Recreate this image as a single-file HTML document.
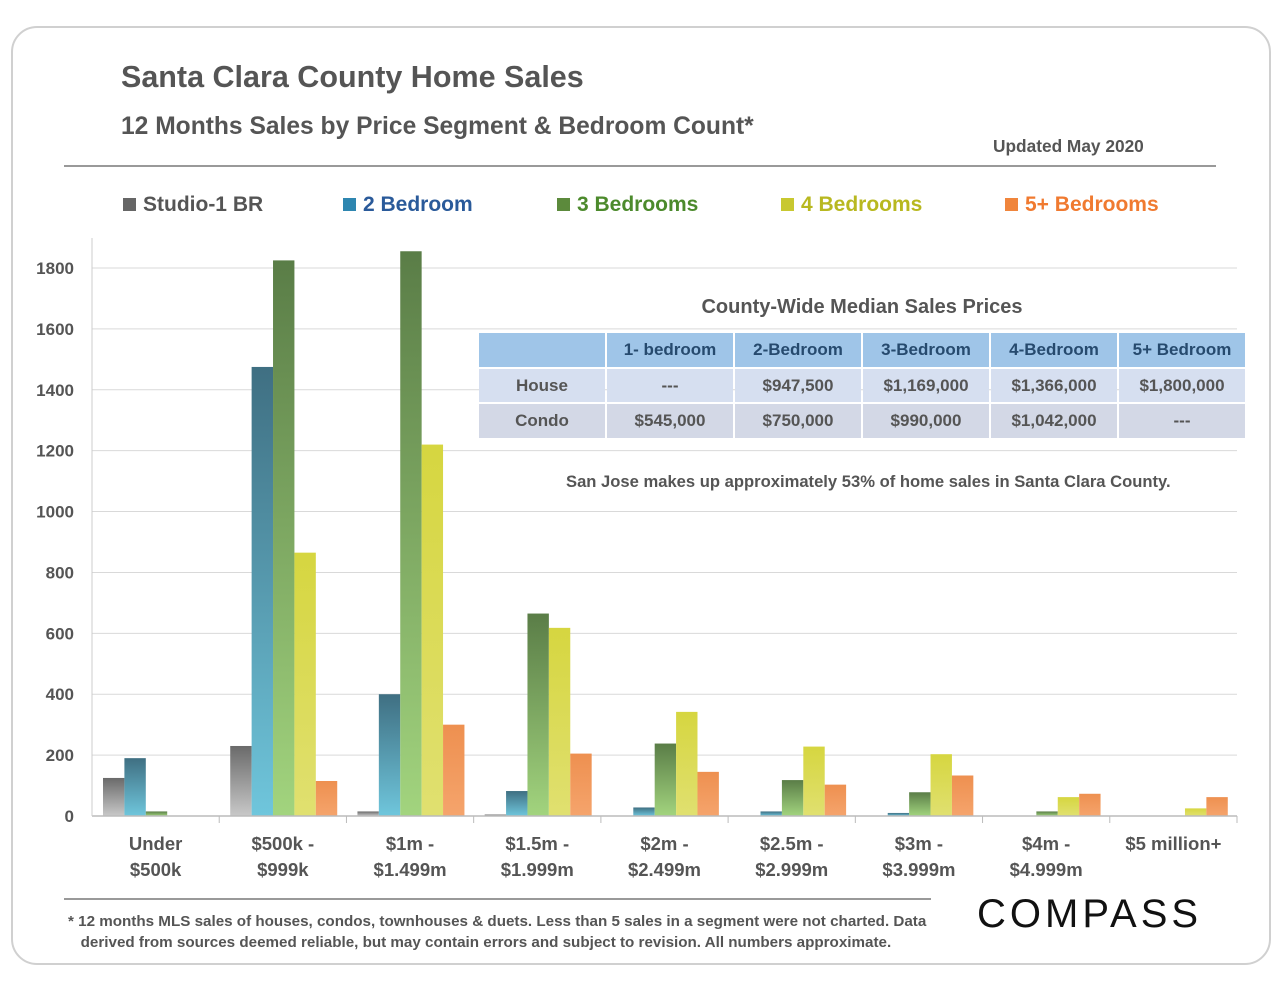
<!DOCTYPE html>
<html><head><meta charset="utf-8">
<style>
body{margin:0;width:1280px;height:989px;background:#fff;font-family:"Liberation Sans",sans-serif;overflow:hidden;position:relative}
.a{position:absolute}
</style></head><body>
<div class="a" style="left:11px;top:26px;width:1256px;height:935px;border:2px solid #d0d0d0;border-radius:26px"></div>
<div class="a" style="left:121px;top:60px;font-size:30.5px;font-weight:bold;color:#555">Santa Clara County Home Sales</div>
<div class="a" style="left:121px;top:113px;font-size:24.6px;font-weight:bold;color:#555">12 Months Sales by Price Segment &amp; Bedroom Count*</div>
<div class="a" style="left:993px;top:136px;font-size:17.3px;font-weight:bold;color:#555">Updated May 2020</div>
<div class="a" style="left:64px;top:165px;width:1152px;height:2px;background:#999"></div>
<svg class="a" style="left:0;top:0" width="1280" height="989">
<defs>
<linearGradient id="g0" x1="0" y1="0" x2="0" y2="1"><stop offset="0" stop-color="#6a6a6a"/><stop offset="1" stop-color="#c8c8c8"/></linearGradient>
<linearGradient id="g1" x1="0" y1="0" x2="0" y2="1"><stop offset="0" stop-color="#3f6f82"/><stop offset="1" stop-color="#6fc6dc"/></linearGradient>
<linearGradient id="g2" x1="0" y1="0" x2="0" y2="1"><stop offset="0" stop-color="#5a7d47"/><stop offset="1" stop-color="#a2d47e"/></linearGradient>
<linearGradient id="g3" x1="0" y1="0" x2="0" y2="1"><stop offset="0" stop-color="#d6d640"/><stop offset="1" stop-color="#e0e070"/></linearGradient>
<linearGradient id="g4" x1="0" y1="0" x2="0" y2="1"><stop offset="0" stop-color="#ee9050"/><stop offset="1" stop-color="#f5a46c"/></linearGradient>
</defs>
<g id="grid"></g><g id="bars"></g><g id="axes"></g>
</svg>
<div class="a" style="left:479px;top:296px;width:766px;text-align:center;font-size:20px;font-weight:bold;color:#555">County-Wide Median Sales Prices</div>
<table class="a" style="left:477px;top:331px;border-collapse:separate;border-spacing:2px;font-size:17px;font-weight:bold;color:#555;text-align:center">
<tr style="background:#9fc5e8;color:#264a6e;height:34px"><td style="width:124px"></td><td style="width:124px">1- bedroom</td><td style="width:124px">2-Bedroom</td><td style="width:124px">3-Bedroom</td><td style="width:124px">4-Bedroom</td><td style="width:124px">5+ Bedroom</td></tr>
<tr style="background:#d6dff0;height:33px"><td>House</td><td>---</td><td>$947,500</td><td>$1,169,000</td><td>$1,366,000</td><td>$1,800,000</td></tr>
<tr style="background:#d3d8e6;height:34px"><td>Condo</td><td>$545,000</td><td>$750,000</td><td>$990,000</td><td>$1,042,000</td><td>---</td></tr>
</table>
<div class="a" style="left:566px;top:472px;font-size:16.6px;font-weight:bold;color:#555">San Jose makes up approximately 53% of home sales in Santa Clara County.</div>
<div class="a" style="left:64px;top:898px;width:867px;height:2px;background:#999"></div>
<div class="a" style="left:68px;top:911px;width:900px;font-size:15.2px;font-weight:bold;color:#555;line-height:21px">* 12 months MLS sales of houses, condos, townhouses &amp; duets. Less than 5 sales in a segment were not charted. Data<br>&nbsp;&nbsp;&nbsp;derived from sources deemed reliable, but may contain errors and subject to revision. All numbers approximate.</div>
<div class="a" style="left:977px;top:892px;font-size:40px;letter-spacing:4px;color:#111">COMPASS</div>
<script>
const categories=[["Under","$500k"],["$500k -","$999k"],["$1m -","$1.499m"],["$1.5m -","$1.999m"],["$2m -","$2.499m"],["$2.5m -","$2.999m"],["$3m -","$3.999m"],["$4m -","$4.999m"],["$5 million+",""]];
const seriesNames=["Studio-1 BR","2 Bedroom","3 Bedrooms","4 Bedrooms","5+ Bedrooms"];
const studio=[125,230,15,5,0,0,0,0,0];
const bed2=[190,1475,400,82,28,15,10,0,0];
const bed3=[15,1825,1855,665,238,118,78,15,0];
const bed4=[0,865,1220,618,342,228,203,62,25];
const bed5=[0,115,300,205,145,103,133,73,62];
const yTicks=[0,200,400,600,800,1000,1200,1400,1600,1800];
const legendColors=["#666","#2e86b0","#5c8a3c","#c8c830","#f0853c"];
const legendText=["#555","#2a5a9a","#4c8a2c","#b8b820","#f07a30"];
const series=[studio,bed2,bed3,bed4,bed5];
const NS="http://www.w3.org/2000/svg";
const x0=92,x1=1237,y0=816,yTop=268,yMaxV=1800;
const cw=(x1-x0)/categories.length,bw=21.4,off=11;
const y=v=>y0-(v/yMaxV)*(y0-yTop);
function mk(t,a,p){const e=document.createElementNS(NS,t);for(const k in a)e.setAttribute(k,a[k]);p.appendChild(e);return e;}
const grid=document.getElementById('grid'),bars=document.getElementById('bars'),axes=document.getElementById('axes');
yTicks.forEach(t=>{
 if(t>0){const l=mk('line',{x1:x0,x2:x1,y1:y(t),y2:y(t),stroke:'#d9d9d9','stroke-width':1},grid);
 
 }
 const tx=mk('text',{x:74,y:y(t)+6,'text-anchor':'end','font-size':17,'font-weight':'bold',fill:'#555','font-family':'Liberation Sans'},axes);tx.textContent=t;
 
 
});
series.forEach((s,si)=>s.forEach((v,ci)=>{
 if(v<=0)return;
 const r=mk('rect',{x:x0+ci*cw+off+si*bw,y:y(v),width:bw,height:y0-y(v),fill:'url(#g'+si+')'},bars);
 
 
}));
const ax=mk('line',{x1:x0,x2:x1,y1:y0,y2:y0,stroke:'#bbb','stroke-width':1.5},axes);


const ay=mk('line',{x1:x0,x2:x0,y1:238,y2:y0,stroke:'#ccc','stroke-width':1},axes);


categories.forEach((c,i)=>{
 const tk=mk('line',{x1:x0+(i+1)*cw,x2:x0+(i+1)*cw,y1:y0,y2:y0+7,stroke:'#bbb'},axes);
 
 
 c.forEach((line,j)=>{const t=mk('text',{x:x0+(i+0.5)*cw,y:850+j*26,'text-anchor':'middle','font-size':18.5,'font-weight':'bold',fill:'#555','font-family':'Liberation Sans'},axes);t.textContent=line;
 
 });
});
const lx=[123,343,557,781,1005];
seriesNames.forEach((n,i)=>{
 const r=mk('rect',{x:lx[i],y:198,width:13,height:13,fill:legendColors[i]},axes);
 
 
 const t=mk('text',{x:lx[i]+20,y:211,'font-size':21,'font-weight':'bold',fill:legendText[i],'font-family':'Liberation Sans'},axes);t.textContent=n;
 
 
});
</script>
</body></html>
